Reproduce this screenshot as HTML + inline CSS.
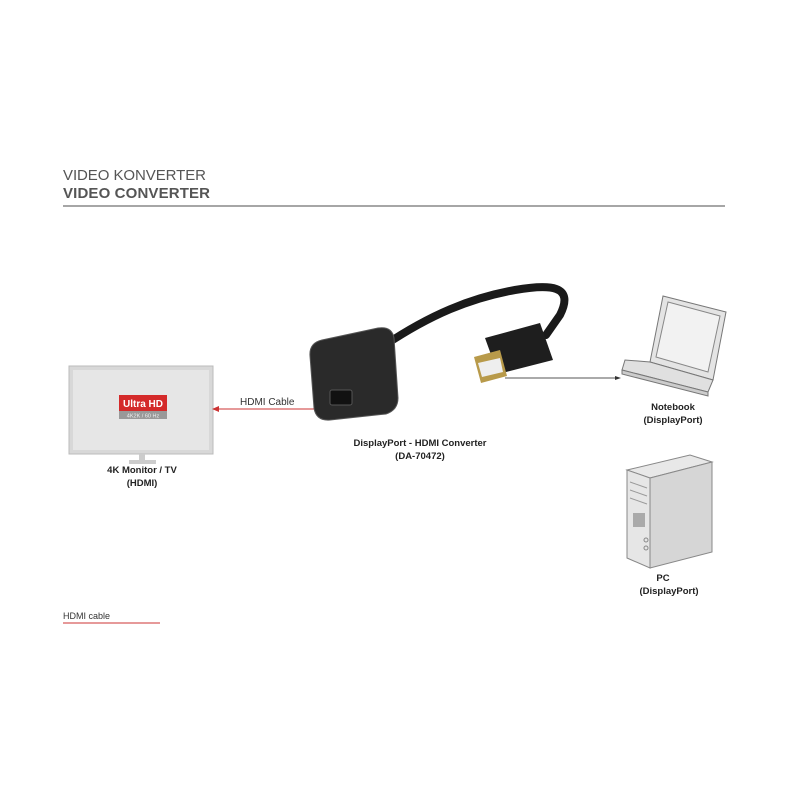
<!DOCTYPE html><html><head><style>body{margin:0;background:#fff}svg{display:block}</style></head><body>
<svg width="800" height="800" viewBox="0 0 800 800" xmlns="http://www.w3.org/2000/svg" font-family="Liberation Sans, sans-serif">
<rect width="800" height="800" fill="#fff"/>
<text x="63" y="180" font-size="15" fill="#555" textLength="143">VIDEO KONVERTER</text>
<text x="63" y="198" font-size="15" font-weight="bold" fill="#555" textLength="147">VIDEO CONVERTER</text>
<line x1="63" y1="206" x2="725" y2="206" stroke="#888" stroke-width="1.5"/>
<!-- TV -->
<rect x="69" y="366" width="144" height="88" fill="#d8d8d8" stroke="#bbb"/>
<rect x="73" y="370" width="136" height="80" fill="#e6e6e6"/>
<rect x="139" y="454" width="6" height="6" fill="#ccc"/>
<rect x="129" y="460" width="27" height="4" fill="#ccc"/>
<rect x="119" y="395" width="48" height="16" fill="#d42a2a"/>
<text x="143" y="407" font-size="10" font-weight="bold" fill="#fff" text-anchor="middle">Ultra HD</text>
<rect x="119" y="411" width="48" height="8" fill="#999"/>
<text x="143" y="417.5" font-size="5.5" fill="#eee" text-anchor="middle">4K2K / 60 Hz</text>
<text x="142" y="473" font-size="9.5" font-weight="bold" fill="#222" text-anchor="middle">4K Monitor / TV</text>
<text x="142" y="486" font-size="9.5" font-weight="bold" fill="#222" text-anchor="middle">(HDMI)</text>
<!-- HDMI arrow -->
<line x1="218" y1="409" x2="340" y2="409" stroke="#c33" stroke-width="1"/>
<polygon points="212,409 219,406 219,412" fill="#c33"/>
<text x="240" y="405" font-size="10" fill="#333">HDMI Cable</text>
<!-- cable -->
<path d="M385,345 C430,315 470,298 515,290 C550,284 575,285 560,315 L546,335" fill="none" stroke="#1a1a1a" stroke-width="8" stroke-linecap="round"/>
<!-- converter -->
<path d="M322,340 L378,328 Q392,326 394,338 L398,398 Q398,410 386,414 L330,420 Q316,421 314,408 L310,356 Q309,343 322,340 Z" fill="#2a2a2a" stroke="#555" stroke-width="1"/>
<rect x="330" y="390" width="22" height="15" rx="2" fill="#111" stroke="#555"/>
<!-- plug -->
<polygon points="485,338 540,323 553,360 498,374" fill="#1e1e1e"/>
<polygon points="474,357 500,350 507,376 481,383" fill="#b89a4a"/>
<polygon points="478,363 500,358 503,372 482,377" fill="#eee"/>
<line x1="505" y1="378" x2="616" y2="378" stroke="#555" stroke-width="1"/>
<polygon points="621,378 615,376 615,380" fill="#333"/>
<text x="420" y="446" font-size="9.5" font-weight="bold" fill="#222" text-anchor="middle">DisplayPort - HDMI Converter</text>
<text x="420" y="459" font-size="9.5" font-weight="bold" fill="#222" text-anchor="middle">(DA-70472)</text>
<!-- laptop -->
<polygon points="663,296 726,312 713,380 650,362" fill="#e4e4e4" stroke="#777"/>
<polygon points="668,302 720,316 708,372 656,357" fill="#f2f2f2" stroke="#888"/>
<polygon points="650,362 713,380 708,392 622,370 625,360" fill="#e0e0e0" stroke="#777"/>
<polygon points="622,370 708,392 708,396 622,374" fill="#ccc" stroke="#777"/>
<text x="673" y="410" font-size="9.5" font-weight="bold" fill="#222" text-anchor="middle">Notebook</text>
<text x="673" y="423" font-size="9.5" font-weight="bold" fill="#222" text-anchor="middle">(DisplayPort)</text>
<!-- PC -->
<polygon points="627,470 690,455 712,462 650,478" fill="#e8e8e8" stroke="#888"/>
<polygon points="627,470 650,478 650,568 627,558" fill="#e6e6e6" stroke="#888"/>
<polygon points="650,478 712,462 712,552 650,568" fill="#d6d6d6" stroke="#888"/>
<line x1="630" y1="482" x2="647" y2="488" stroke="#999"/>
<line x1="630" y1="490" x2="647" y2="496" stroke="#999"/>
<line x1="630" y1="498" x2="647" y2="504" stroke="#999"/>
<rect x="633" y="513" width="12" height="14" fill="#aaa"/>
<circle cx="646" cy="540" r="2" fill="none" stroke="#888"/>
<circle cx="646" cy="548" r="2" fill="none" stroke="#888"/>
<text x="663" y="581" font-size="9.5" font-weight="bold" fill="#222" text-anchor="middle">PC</text>
<text x="669" y="594" font-size="9.5" font-weight="bold" fill="#222" text-anchor="middle">(DisplayPort)</text>
<!-- legend -->
<text x="63" y="619" font-size="9" fill="#333">HDMI cable</text>
<line x1="63" y1="623" x2="160" y2="623" stroke="#c33" stroke-width="1"/>
</svg>
</body></html>
